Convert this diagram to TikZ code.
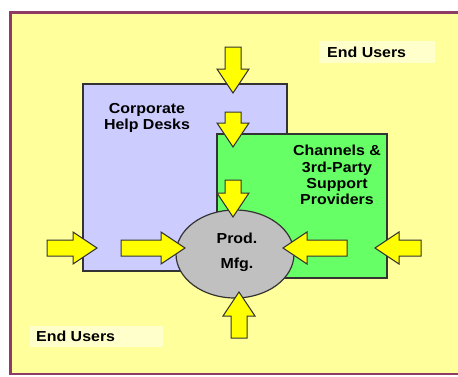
\documentclass[tikz,border=0pt]{standalone}
\usepackage{fontspec}
\setmainfont{Liberation Sans}[FakeStretch=1.1]
\begin{document}
\begin{tikzpicture}[x=1pt,y=-1pt,
  framecol/.style={draw=framered,line width=2.6pt},
  boxsty/.style={draw=edgegray,line width=1.2pt},
  arrowsty/.style={draw=edgegray,fill=arrowyellow,line width=1pt,line join=miter},
  lbl/.style={font=\bfseries\fontsize{14.5}{16.3}\selectfont,text=black,inner sep=0pt},
  tagbox/.style={fill=tagyellow,draw=none},
  pics/yarrow/.style={code={
    \draw[arrowsty] (0,-8) -- ({#1-24},-8) -- ({#1-24},-16) -- (#1,0)
      -- ({#1-24},16) -- ({#1-24},8) -- (0,8) -- cycle;}}]
\definecolor{framered}{HTML}{8E3B66}
\definecolor{bgyellow}{HTML}{FFFF9C}
\definecolor{tagyellow}{HTML}{FFFFCC}
\definecolor{helpblue}{HTML}{CCCCFF}
\definecolor{chgreen}{HTML}{66FF66}
\definecolor{prodgray}{HTML}{C0C0C0}
\definecolor{arrowyellow}{HTML}{FFFF00}
\definecolor{edgegray}{HTML}{333333}

\useasboundingbox (0,0) rectangle (458,376);
\clip (0,0) rectangle (458,376);

% page background and frame
\fill[white] (0,0) rectangle (458,376);
\filldraw[fill=bgyellow,framecol] (10.5,12.5) rectangle (470,374);

% end-user labels
\fill[tagbox] (319,41) rectangle (435,63);
\node[lbl,anchor=west] (eu1) at (327,52) {End Users};
\fill[tagbox] (30,326) rectangle (163,347);
\node[lbl,anchor=west] (eu2) at (36,336.5) {End Users};

% support tiers
\filldraw[boxsty,fill=helpblue] (83,84) rectangle (287,271);
\node[lbl,align=center] (helptxt) at (147,118) {Corporate\\Help Desks};

\filldraw[boxsty,fill=chgreen] (217,134) rectangle (387,278);
\node[lbl,align=center] (chtxt) at (337,175) {Channels \&\\3rd-Party\\Support\\Providers};

% product manufacturer
\filldraw[boxsty,fill=prodgray] (235,254) ellipse [x radius=59, y radius=44];
\node[lbl] (prod) at (237,238) {Prod.};
\node[lbl] (mfg) at (237,265) {Mfg.};

% support flows
\pic[rotate=-90] (a1) at (233,47) {yarrow=46};
\pic[rotate=-90] (a2) at (233,112) {yarrow=35};
\pic[rotate=-90] (a3) at (233,180) {yarrow=37};
\pic[rotate=90]  (a4) at (239,338) {yarrow=46};
\pic (a5) at (47,248) {yarrow=50};
\pic (a6) at (121,248) {yarrow=64};
\pic[rotate=180] (a7) at (347,248) {yarrow=64};
\pic[rotate=180] (a8) at (421,248) {yarrow=46};
\end{tikzpicture}
\end{document}
